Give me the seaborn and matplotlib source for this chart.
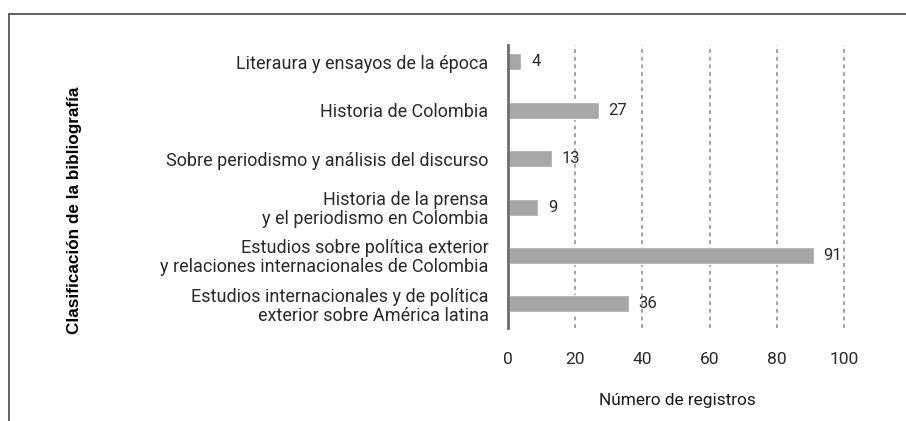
import matplotlib
matplotlib.use("Agg")
import matplotlib.pyplot as plt
import seaborn as sns
import pandas as pd
from matplotlib.lines import Line2D
from matplotlib.font_manager import FontProperties

categories = [
    "Literaura y ensayos de la época",
    "Historia de Colombia",
    "Sobre periodismo y análisis del discurso",
    "Historia de la prensa\ny el periodismo en Colombia",
    "Estudios sobre política exterior\ny relaciones internacionales de Colombia",
    "Estudios internacionales y de política\nexterior sobre América latina",
]
values = [4, 27, 13, 9, 91, 36]
xticks = [0, 20, 40, 60, 80, 100]
xlabel = "Número de registros"
ylabel = "Clasificación de la bibliografía"

df = pd.DataFrame({"cat": categories, "val": values})

sns.set_theme(style="white")
plt.rcParams["font.family"] = ["Roboto", "DejaVu Sans"]

fig = plt.figure(figsize=(9.06, 4.21), dpi=100)
ax = fig.add_axes([508 / 906, 1 - 328 / 421, (101 * 3.36) / 906, (328 - 45) / 421])

sns.barplot(data=df, y="cat", x="val", orient="h", color="#a7a7aa",
            saturation=1, width=0.35, ax=ax)
for c in ax.containers:
    ax.bar_label(c, labels=[str(v) for v in values], padding=7,
                 fontsize=12, color="#2a2a2a")

ax.set_xlim(0, 101)
ax.set_ylim(5.5, -0.35)
ax.set_xticks(xticks)
ax.set_xticklabels([str(t) for t in xticks], fontsize=12.5, color="#2a2a2a")
ax.tick_params(axis="x", length=0, pad=17)
ax.tick_params(axis="y", length=0, pad=14, labelsize=13, labelcolor="#2a2a2a")
for lab in ax.get_yticklabels():
    lab.set_multialignment("right")
    lab.set_linespacing(1.05)

for t in xticks[1:]:
    ax.axvline(t, color="#8a8a8a", lw=1.1, ls=(0, (2.5, 2.5)), zorder=0)

for s in ["top", "right", "bottom"]:
    ax.spines[s].set_visible(False)
ax.spines["left"].set_color("#6e6e6e")
ax.spines["left"].set_linewidth(2)

ax.set_xlabel(xlabel, fontsize=12.4, color="#1a1a1a", labelpad=19)
ax.set_ylabel("")
fp = FontProperties(family="Liberation Sans", weight="bold", size=12.3)
fig.text(75 / 906, 1 - 210 / 421, ylabel, rotation=90, ha="center", va="center",
         fontproperties=fp, color="#000000")

fig.add_artist(Line2D([9 / 906, 1], [1 - 14 / 421, 1 - 14 / 421],
                      transform=fig.transFigure, color="#555555", lw=1.3))
fig.add_artist(Line2D([9 / 906, 9 / 906], [0, 1 - 14 / 421],
                      transform=fig.transFigure, color="#555555", lw=1.3))

fig.savefig("out.png", dpi=100)
